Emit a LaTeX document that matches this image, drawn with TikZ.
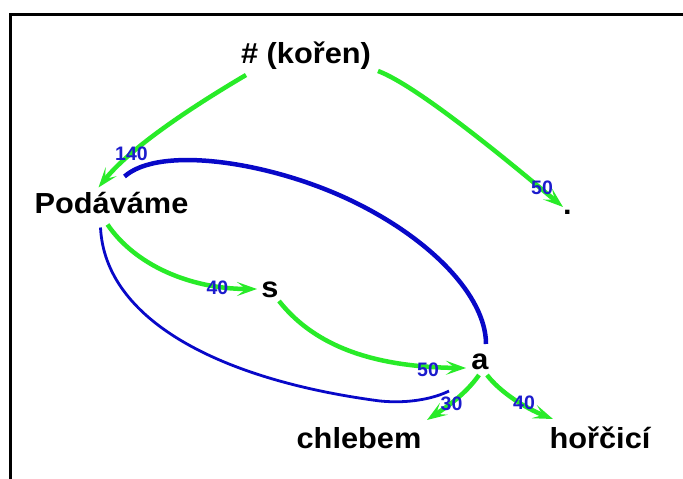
\documentclass[tikz,border=0pt]{standalone}
\usepackage{fontspec}
\setmainfont{Liberation Sans}
\newfontfamily\mainbold[FakeStretch=1.06]{Liberation Sans Bold}
\newfontfamily\labbold{Liberation Sans Bold}
\usetikzlibrary{arrows.meta,calc}
\definecolor{edgegreen}{RGB}{40,235,40}
\definecolor{labblue}{RGB}{28,28,205}
\definecolor{arcblue}{RGB}{8,8,200}
\tikzset{
  word/.style={anchor=base,inner sep=0pt,font=\mainbold\fontsize{29}{29}\selectfont,text=black},
  wlabel/.style={inner sep=0pt,font=\labbold\fontsize{19.5}{19.5}\selectfont,text=labblue},
  gedge/.style={draw=edgegreen,line width=4.5pt,-{Stealth[length=20pt,width=14pt,inset=9pt]}},
  thickarc/.style={draw=arcblue,line width=4.5pt},
  thinarc/.style={draw=arcblue,line width=2.8pt},
  frame/.style={draw=black,line width=3pt}
}
\begin{document}
\begin{tikzpicture}[x=1pt,y=-1pt]
\useasboundingbox (0,0) rectangle (683,479);
\fill[white] (0,0) rectangle (683,479);
\draw[frame] (10.3,479) -- (10.3,14.7) -- (683,14.7);
% nodes
\node[word] (root) at (306,63.5) {\# (kořen)};
\node[word] (pod) at (111.5,213.5) {Podáváme};
\node[word] (dot) at (567.5,214) {.};
\node[word] (s) at (270,297) {s};
\node[word] (a) at (480,369) {a};
\node[word] (chl) at (359,448) {chlebem};
\node[word] (hor) at (600,448) {hořčicí};
% blue arcs
\draw[thickarc] ($(pod.base)+(13,-37)$) .. controls (160,145) and (270,162) .. (350,200)
  .. controls (430,238) and (486,296) .. ($(a.base)+(6,-25)$);
\draw[thinarc] ($(pod.base)+(-11,14)$) .. controls (105,320) and (220,380) .. (380,401)
  .. controls (410,404) and (435,398) .. ($(a.base)+(-31,22)$);
% green edges
\draw[gedge] ($(root.base)+(-60,11.5)$) .. controls (190,108) and (130,148) .. ($(pod.base)+(-13,-26)$);
\draw[gedge] ($(root.base)+(72,7.5)$) .. controls (418,86) and (513,165) .. ($(dot.base)+(-4.5,-7)$);
\draw[gedge] ($(pod.base)+(-4,11)$) .. controls (135,265) and (190,289) .. ($(s.base)+(-13,-8)$);
\draw[gedge] ($(s.base)+(9,4)$) .. controls (310,340) and (362,367) .. ($(a.base)+(-14,-1)$);
\draw[gedge] ($(a.base)+(-1,6)$) .. controls (465,395) and (445,408) .. ($(chl.base)+(68,-28)$);
\draw[gedge] ($(a.base)+(7,6)$) .. controls (500,392) and (525,408) .. ($(hor.base)+(-47,-29)$);
% labels
\node[wlabel] (l1) at (131.5,153.7) {140};
\node[wlabel] (l2) at (542,187.5) {50};
\node[wlabel] (l3) at (217.5,287.5) {40};
\node[wlabel] (l4) at (428,369.5) {50};
\node[wlabel] (l5) at (451.5,404) {30};
\node[wlabel] (l6) at (524,403) {40};
\end{tikzpicture}
\end{document}
